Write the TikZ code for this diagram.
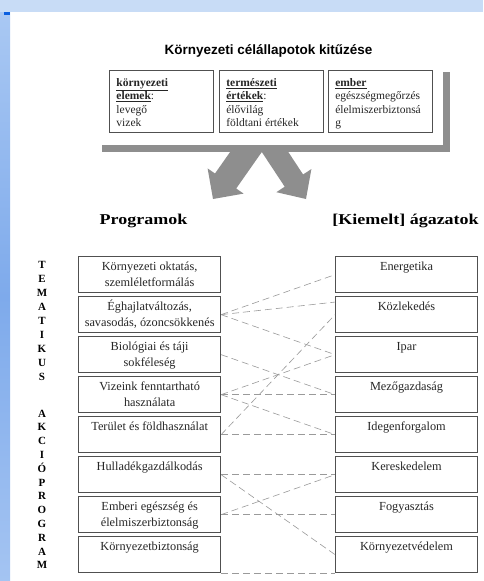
\documentclass[tikz,border=0pt]{standalone}
\usepackage{fontspec}
\usepackage{tikz}
\usetikzlibrary{matrix}
\usetikzlibrary{positioning}
\setmainfont{Liberation Serif}
\newfontfamily\titlefont{Liberation Sans}
\newfontfamily\headfont[FakeStretch=1.2]{Liberation Serif}

\definecolor{topband}{HTML}{C8DCF6}
\definecolor{sidetop}{HTML}{A9C8F3}
\definecolor{sidemid}{HTML}{7EAAEB}
\definecolor{sidebot}{HTML}{A4C4F2}
\definecolor{markblue}{HTML}{0A5FE0}
\definecolor{framegray}{HTML}{8E8E8E}
\definecolor{boxline}{HTML}{505050}
\definecolor{inkgray}{HTML}{262626}
\definecolor{linegray}{HTML}{9A9A9A}

% cell contents: text sits near the top of each box
\newcommand{\progcell}[1]{\parbox[c][36pt][t]{140pt}{\centering\rule{0pt}{14pt}#1}}
\newcommand{\goalcell}[1]{\parbox[c][62pt][t]{90pt}{\raggedright\rule{0pt}{16pt}#1}}

\begin{document}
\begin{tikzpicture}[x=1pt, y=-1pt,
    goal/.style={draw=boxline, line width=0.9pt, inner xsep=7pt, inner ysep=0pt,
      text=inkgray, font=\fontsize{11.5}{13.5}\selectfont},
    head/.style={anchor=base, inner sep=0pt, text=black, font=\headfont\bfseries\fontsize{15}{18}\selectfont},
    vletter/.style={anchor=base, inner sep=0pt, font=\bfseries\fontsize{11}{13}\selectfont},
    conn/.style={draw=linegray, line width=0.6pt, dash pattern=on 7pt off 4pt}]
  \useasboundingbox (0,0) rectangle (483,581);
  % slide background
  \fill[white] (0,0) rectangle (483,581);
  \fill[topband] (0,0) rectangle (483,12);
  \shade[top color=sidetop, bottom color=sidebot, middle color=sidemid] (0,12) rectangle (10,581);
  \fill[markblue] (4,12) rectangle (10,15);

  \node[anchor=base, inner sep=0pt, font=\titlefont\bfseries\fontsize{13.5}{16}\selectfont] (title)
    at (268.5,54) {Környezeti célállapotok kitűzése};

  \node[goal, anchor=north west] (elemek) at (109,70)
    {\goalcell{\underline{\textbf{környezeti}}\\\underline{\textbf{elemek}}:\\levegő\\vizek}};
  \node[goal, right=5pt of elemek] (ertekek)
    {\goalcell{\underline{\textbf{természeti}}\\\underline{\textbf{értékek}}:\\élővilág\\földtani értékek}};
  \node[goal, right=4pt of ertekek] (ember)
    {\goalcell{\underline{\textbf{ember}}\\egészségmegőrzés\\élelmiszerbiztonsá\\g}};

  % grey frame and the two arrows under it
  \fill[framegray] (102,145) rectangle (450,152);
  \fill[framegray] (443,72) rectangle (450,152);
  \fill[framegray] (230.1,152) -- (288.3,152) -- (303.1,174.5) -- (311.4,169) -- (306,199)
    -- (276.4,192.2) -- (284.7,186.7) -- (261.8,152) -- (236.2,188.5) -- (243.6,193.6)
    -- (213,199) -- (207.6,168.4) -- (215,173.5) -- cycle;

  \node[head] (programok) at (143.5,224) {Programok};
  \node[head] (agazatok) at (405.5,224) {[Kiemelt] ágazatok};

  \matrix (prog) [%
    matrix of nodes,
    anchor=north west,
    inner sep=0pt,
    column sep=114pt,
    row sep=3.1pt,
    nodes={draw=boxline, line width=0.9pt, minimum width=142pt, minimum height=36pt,
      inner sep=0pt, text=inkgray, font=\fontsize{12.3}{16}\selectfont},
    ampersand replacement=\&
  ] at (78,256)
  {
    \progcell{Környezeti oktatás,\\szemléletformálás}         \& \progcell{Energetika} \\
    \progcell{Éghajlatváltozás,\\savasodás, ózoncsökkenés}    \& \progcell{Közlekedés} \\
    \progcell{Biológiai és táji\\sokféleség}                  \& \progcell{Ipar} \\
    \progcell{Vizeink fenntartható\\használata}               \& \progcell{Mezőgazdaság} \\
    \progcell{Terület és földhasználat}                       \& \progcell{Idegenforgalom} \\
    \progcell{Hulladékgazdálkodás}                            \& \progcell{Kereskedelem} \\
    \progcell{Emberi egészség és\\élelmiszerbiztonság}        \& \progcell{Fogyasztás} \\
    \progcell{Környezetbiztonság}                             \& \progcell{Környezetvédelem} \\
  };

  \foreach \ch [count=\i from 0] in {T,E,M,A,T,I,K,U,S}
    \node[vletter] (tema-\i) at (42,268+14.1*\i) {\ch};
  \foreach \ch [count=\i from 0] in {A,K,C,I,Ó,P,R,O,G,R,A,M}
    \node[vletter] (akcio-\i) at (42,417+13.8*\i) {\ch};

  \draw[conn] (prog-2-1.east) -- (prog-1-2.west);
  \draw[conn] (prog-2-1.east) -- (prog-2-2.170);
  \draw[conn] (prog-2-1.east) -- (prog-3-2.west);
  \draw[conn] (prog-3-1.east) -- (prog-4-2.west);
  \draw[conn] (prog-4-1.east) -- (prog-3-2.west);
  \draw[conn] (prog-4-1.east) -- (prog-4-2.west);
  \draw[conn] (prog-4-1.east) -- (prog-5-2.west);
  \draw[conn] (prog-5-1.east) -- (prog-2-2.west);
  \draw[conn] (prog-5-1.east) -- (prog-5-2.west);
  \draw[conn] (prog-6-1.east) -- (prog-6-2.west);
  \draw[conn] (prog-6-1.east) -- (prog-8-2.west);
  \draw[conn] (prog-7-1.east) -- (prog-6-2.west);
  \draw[conn] (prog-7-1.east) -- (prog-7-2.west);
  \draw[conn] (prog-8-1.south east) -- (prog-8-2.south west);
\end{tikzpicture}
\end{document}
